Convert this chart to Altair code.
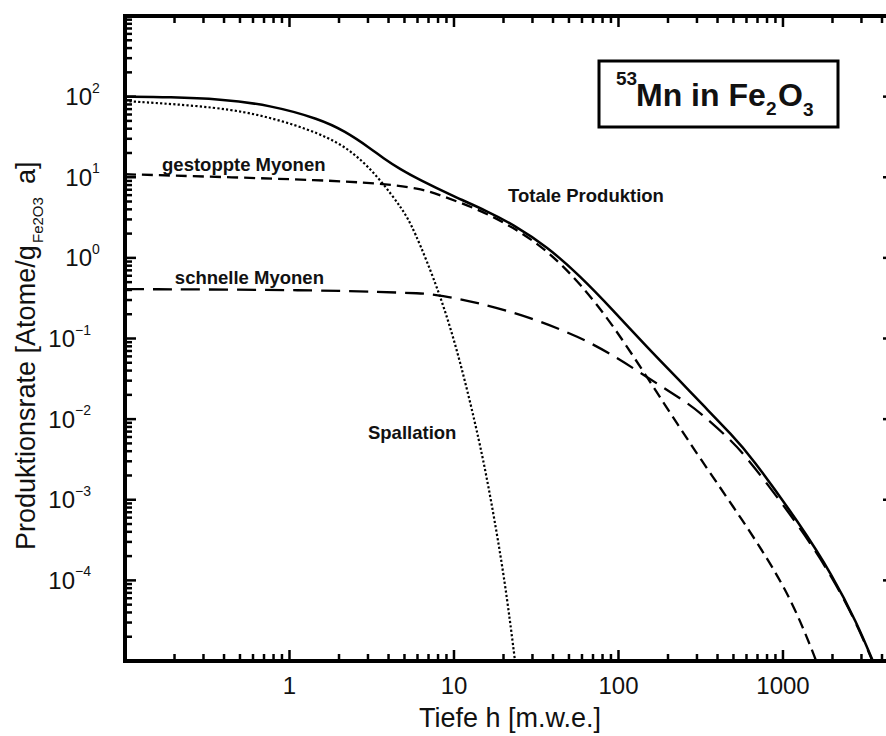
import altair as alt
import pandas as pd

# Production rate of 53Mn in Fe2O3 as a function of shielding depth
# depth h in metres water equivalent, rate in atoms / (g_Fe2O3 * a)

depth_total = [0.1, 0.188, 0.378, 0.761, 1.53, 2.17, 3.09, 3.70, 4.70, 6.21, 9.86,
               15.9, 22.8, 36.8, 58.3, 92.6, 149, 237, 313, 497, 630, 1270, 2010,
               2820, 3520]
rate_total = [100, 99, 93.4, 78.7, 52.7, 37.4, 23.0, 17.3, 12.6, 9.23, 5.84,
              3.81, 2.60, 1.38, 0.60, 0.225, 0.0782, 0.0296, 0.0163, 6.15e-3,
              3.58e-3, 4.98e-4, 1.13e-4, 2.94e-5, 1.0e-5]

depth_spall = [0.1, 0.378, 0.761, 1.53, 2.43, 3.55, 4.90, 5.63, 8.22, 10.9, 14.4,
               16.8, 20.4, 23.5]
rate_spall = [88.2, 74.3, 55.8, 35.4, 21.1, 9.5, 3.92, 2.41, 0.366, 0.054, 5.0e-3,
              1.0e-3, 1.0e-4, 1.0e-5]

depth_stopped = [0.1, 0.378, 1.53, 3.55, 6.21, 8.22, 14.4, 22.8, 36.8, 58.3, 92.6,
                 149, 237, 313, 497, 799, 1150, 1520, 1590]
rate_stopped = [10.9, 10.1, 9.23, 8.4, 7.28, 6.02, 3.92, 2.41, 1.25, 0.487, 0.147,
                0.0332, 7.73e-3, 3.28e-3, 8.3e-4, 1.94e-4, 5.21e-5, 1.29e-5, 1.0e-5]

depth_fast = [0.1, 1.53, 3.55, 6.21, 8.22, 14.4, 29.0, 58.3, 92.6, 149, 237, 313,
              497, 630, 1270, 2010, 2820, 3520]
rate_fast = [0.41, 0.399, 0.376, 0.366, 0.346, 0.275, 0.184, 0.104, 0.0622, 0.0332,
             0.0182, 0.0122, 5.19e-3, 3.0e-3, 4.6e-4, 1.07e-4, 2.86e-5, 9.7e-6]

# curve labels: text, anchor depth, anchor rate
label_text = ["gestoppte Myonen", "schnelle Myonen", "Totale Produktion", "Spallation"]
label_depth = [0.168, 0.201, 21.3, 3.0]
label_rate = [11.8, 0.473, 4.97, 5.65e-3]

x_tick_labels = ["1", "10", "100", "1000"]
x_major = [1, 10, 100, 1000]
x_minor = [k * 10.0 ** n for n in range(-1, 4) for k in range(2, 10) if k * 10.0 ** n < 4200]
y_exponents = [-4, -3, -2, -1, 0, 1, 2]
y_major = [10.0 ** e for e in y_exponents]
y_minor = [k * 10.0 ** n for n in range(-5, 3) for k in range(2, 10)]

W, H = 761, 645
FONT = "Liberation Sans"
INK = "#111111"

xs = alt.Scale(type="log", domain=[0.1, 4230], nice=False)
ys = alt.Scale(type="log", domain=[1e-5, 1e3], nice=False)


def curve(depth, rate, width, dash=None):
    style = dict(color="black", strokeWidth=width, interpolate="basis", clip=True)
    if dash:
        style["strokeDash"] = dash
    return alt.Chart(pd.DataFrame({"h": depth, "P": rate})).mark_line(**style).encode(
        x=alt.X("h:Q", scale=xs, axis=None),
        y=alt.Y("P:Q", scale=ys, axis=None),
    )


def xticks(vals, y0, y1, width=2.5):
    return alt.Chart(pd.DataFrame({"v": vals})).mark_rule(color="black", strokeWidth=width).encode(
        x=alt.X("v:Q", scale=xs, axis=None), y=alt.value(y0), y2=alt.value(y1))


def yticks(vals, x0, x1, width=2.5):
    return alt.Chart(pd.DataFrame({"v": vals})).mark_rule(color="black", strokeWidth=width).encode(
        y=alt.Y("v:Q", scale=ys, axis=None), x=alt.value(x0), x2=alt.value(x1))


def frame_line(**enc):
    return alt.Chart(pd.DataFrame({"a": [0]})).mark_rule(
        color="black", strokeWidth=4, strokeCap="square").encode(**enc)


def note(text, x, y, size, bold=False, align="left", angle=0):
    style = dict(font=FONT, fontSize=size, color=INK, align=align, baseline="alphabetic")
    if bold:
        style["fontWeight"] = "bold"
    if angle:
        style["angle"] = angle
    return alt.Chart(pd.DataFrame({"t": [text]})).mark_text(**style).encode(
        x=alt.value(x), y=alt.value(y), text="t:N")


# curves (fast muons under the total, which coincides with it at depth)
fast = curve(depth_fast, rate_fast, 2.3, [19, 9])
stopped = curve(depth_stopped, rate_stopped, 2.3, [11, 6])
spall = curve(depth_spall, rate_spall, 2.2, [2.2, 2.2])
total = curve(depth_total, rate_total, 2.5)

# frame: left, top, bottom (right edge lies at the border of the figure)
frame = [
    frame_line(x=alt.value(0), y=alt.value(0), y2=alt.value(H)),
    frame_line(x=alt.value(0), x2=alt.value(W), y=alt.value(0)),
    frame_line(x=alt.value(0), x2=alt.value(W), y=alt.value(H)),
]

ticks = [
    xticks(x_major, H, H - 11), xticks(x_minor, H, H - 7),
    xticks(x_major, 0, 11), xticks(x_minor, 0, 7),
    yticks(y_major, 0, 11), yticks(y_minor, 0, 7),
    yticks(y_major, W - 3, W),
]

# tick labels
xlab = alt.Chart(pd.DataFrame({"v": x_major, "t": x_tick_labels})).mark_text(
    font=FONT, fontSize=24, color=INK, align="center", baseline="alphabetic").encode(
    x=alt.X("v:Q", scale=xs, axis=None), y=alt.value(678), text="t:N")

ylab_df = pd.DataFrame({
    "e": y_exponents,
    "v": y_major,
    "sup": [str(e).replace("-", "\u2212") for e in y_exponents],
})
ylab = []
for cond, xr in (("datum.e >= 0", -33), ("datum.e < 0", -50)):
    base = alt.Chart(ylab_df).transform_filter(cond)
    ylab.append(base.mark_text(font=FONT, fontSize=24, color=INK, align="right",
                               baseline="alphabetic", dy=8.5).encode(
        x=alt.value(xr), y=alt.Y("v:Q", scale=ys, axis=None), text=alt.value("10")))
    ylab.append(base.mark_text(font=FONT, fontSize=14, color=INK, align="left",
                               baseline="alphabetic", dy=-4).encode(
        x=alt.value(xr), y=alt.Y("v:Q", scale=ys, axis=None), text="sup:N"))

# axis titles
xtitle = note("Tiefe h [m.w.e.]", 385, 711, 27, align="center")
ytitle = [
    note("Produktionsrate [Atome/g", -90, 534, 27, angle=270),
    note("Fe2O3", -82, 227, 15, angle=270),
    note("a]", -90, 168, 27, angle=270),
]

# curve labels placed at depth/rate coordinates
curve_labels = alt.Chart(pd.DataFrame({"t": label_text, "h": label_depth, "P": label_rate})).mark_text(
    font=FONT, fontSize=18.5, fontWeight="bold", color=INK, align="left", baseline="alphabetic").encode(
    x=alt.X("h:Q", scale=xs, axis=None), y=alt.Y("P:Q", scale=ys, axis=None), text="t:N")

# boxed nuclide/target caption
box = alt.Chart(pd.DataFrame({"a": [0]})).mark_rect(fill="white", stroke="black", strokeWidth=3).encode(
    x=alt.value(474), x2=alt.value(713), y=alt.value(45), y2=alt.value(111))
caption = [
    note("53", 491, 69, 19, bold=True),
    note("Mn in Fe", 511, 90, 32, bold=True),
    note("2", 641, 99, 19, bold=True),
    note("O", 653, 90, 32, bold=True),
    note("3", 678, 100, 19, bold=True),
]

chart = alt.layer(
    fast, stopped, spall, total,
    *frame, *ticks, xlab, *ylab, xtitle, *ytitle, curve_labels, box, *caption,
).properties(
    width=W, height=H,
    padding={"left": 125, "top": 16, "right": 0, "bottom": 75},
    autosize=alt.AutoSizeParams(type="none"),
    background="white",
).configure_view(stroke=None)

chart.save("out.html", embed_options={"renderer": "svg", "actions": False})
